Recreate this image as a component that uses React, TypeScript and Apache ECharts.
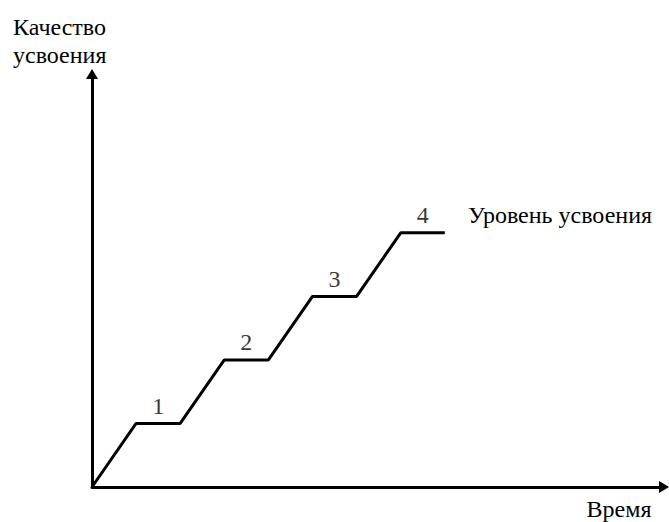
import React, { useEffect, useRef } from "react";
import * as echarts from "echarts";

const pathX = [0, 1, 2, 3, 4, 5, 6, 7, 8];
const pathY = [0, 1, 1, 2, 2, 3, 3, 4, 4];
const stepLabels = ["1", "2", "3", "4"];
const stepLabelX = [1.5, 3.5, 5.5, 7.5];
const stepLabelY = [1, 2, 3, 4];
const yAxisTitle = "Качество\nусвоения";
const xAxisTitle = "Время";
const levelTitle = "Уровень усвоения";

const FONT = "Liberation Serif";

export default function App() {
  const ref = useRef<HTMLDivElement>(null);
  useEffect(() => {
    if (!ref.current) return;
    const chart = echarts.init(ref.current, null, { renderer: "svg" });
    const axisCommon = {
      type: "value" as const,
      axisTick: { show: false },
      axisLabel: { show: false },
      splitLine: { show: false },
      axisLine: {
        show: true,
        onZero: false,
        symbol: ["none", "triangle"],
        symbolSize: [12, 10],
        symbolOffset: [0, 0],
        lineStyle: { color: "#000", width: 3 },
      },
    };
    const textBase = { fontFamily: FONT, fontSize: 24, fill: "#000" };
    chart.setOption({
      animation: false,
      backgroundColor: "#fff",
      grid: { left: 92, right: 5, top: 74, bottom: 35 },
      xAxis: { ...axisCommon, min: 0, max: 12.97 },
      yAxis: { ...axisCommon, min: 0, max: 6.5 },
      textStyle: { fontFamily: FONT },
      series: [
        {
          type: "line",
          data: pathX.map((x, i) => [x, pathY[i]]),
          symbol: "none",
          lineStyle: { color: "#000", width: 3 },
        },
        {
          type: "scatter",
          data: stepLabelX.map((x, i) => [x, stepLabelY[i]]),
          symbolSize: 1,
          itemStyle: { color: "transparent" },
          label: {
            show: true,
            position: "top",
            distance: 5,
            formatter: (p: any) => stepLabels[p.dataIndex],
            color: "#000",
            fontFamily: FONT,
            fontSize: 24,
          },
        },
      ],
      graphic: [
        {
          type: "text",
          left: 13,
          top: 13,
          style: { ...textBase, text: yAxisTitle, lineHeight: 28 },
        },
        {
          type: "text",
          x: 619,
          y: 509,
          style: {
            ...textBase,
            text: xAxisTitle,
            textAlign: "center",
            textVerticalAlign: "middle",
          },
        },
        {
          type: "text",
          x: 468,
          y: 215,
          style: {
            ...textBase,
            text: levelTitle,
            textAlign: "left",
            textVerticalAlign: "middle",
          },
        },
      ],
    });
    return () => chart.dispose();
  }, []);
  return (
    <div
      ref={ref}
      style={{ position: "absolute", left: 0, top: 0, width: 669, height: 522 }}
    />
  );
}
